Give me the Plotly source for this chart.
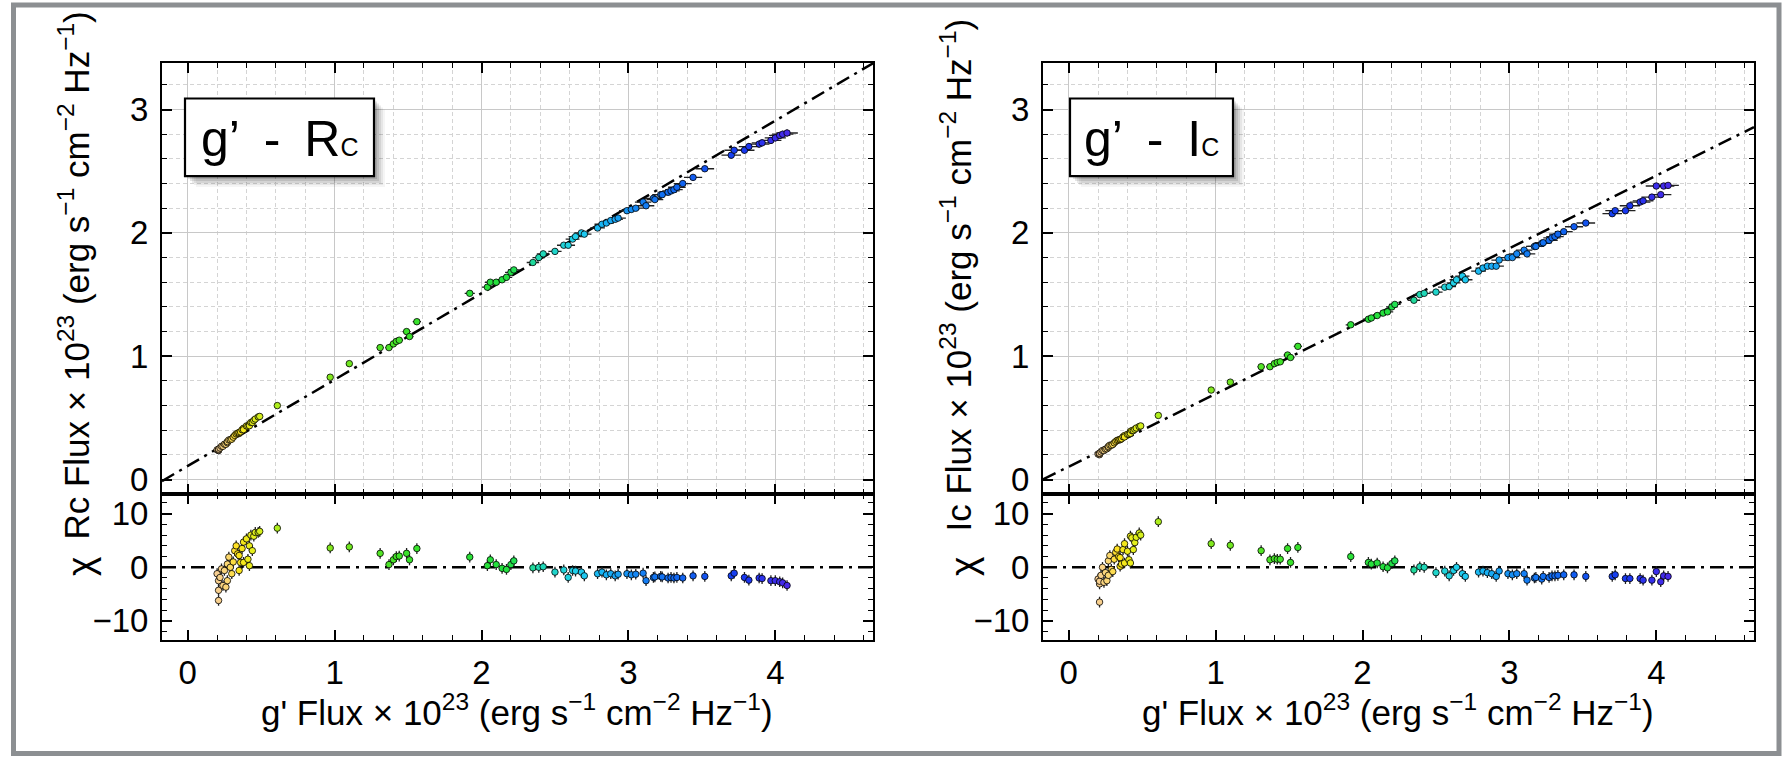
import plotly.graph_objects as go

# ---------------- data ----------------
gflux = [0.20, 0.21, 0.21, 0.21, 0.22, 0.23, 0.24, 0.25, 0.26, 0.27, 0.27, 0.28, 0.29, 0.30, 0.31, 0.32, 0.33,
         0.34, 0.35, 0.35, 0.36, 0.37, 0.38, 0.38, 0.40, 0.41, 0.42, 0.42, 0.43, 0.44, 0.45, 0.46, 0.48, 0.49,
         0.61, 0.97, 1.10, 1.31, 1.37, 1.40, 1.42, 1.44, 1.49, 1.51, 1.56, 1.92, 2.04, 2.06, 2.10, 2.14, 2.17,
         2.20, 2.22, 2.35, 2.39, 2.42, 2.50, 2.56, 2.59, 2.62, 2.64, 2.68, 2.70, 2.79, 2.82, 2.85, 2.88, 2.91,
         2.93, 2.99, 3.02, 3.05, 3.10, 3.12, 3.17, 3.18, 3.22, 3.23, 3.27, 3.29, 3.31, 3.33, 3.37, 3.44, 3.52,
         3.70, 3.72, 3.79, 3.82, 3.89, 3.91, 3.97, 4.00, 4.03, 4.05, 4.08]

rc_flux = [0.241, 0.235, 0.241, 0.247, 0.256, 0.270, 0.270, 0.287, 0.286, 0.299, 0.308, 0.321, 0.323, 0.328,
           0.344, 0.358, 0.370, 0.375, 0.374, 0.383, 0.387, 0.404, 0.416, 0.405, 0.435, 0.433, 0.448, 0.437,
           0.463, 0.463, 0.480, 0.491, 0.508, 0.512,
           0.60, 0.83, 0.94, 1.07, 1.07, 1.10, 1.12, 1.13, 1.20, 1.16, 1.28, 1.51, 1.56, 1.60, 1.60, 1.62, 1.64,
           1.68, 1.70, 1.76, 1.80, 1.83, 1.85, 1.90, 1.90, 1.95, 1.97, 2.00, 1.99, 2.04, 2.07, 2.08, 2.10, 2.11,
           2.12, 2.18, 2.19, 2.20, 2.25, 2.22, 2.28, 2.27, 2.31, 2.31, 2.33, 2.34, 2.35, 2.37, 2.40, 2.45, 2.52,
           2.63, 2.67, 2.67, 2.70, 2.72, 2.73, 2.75, 2.77, 2.79, 2.80, 2.81]

rc_chi = [-1.2, -6.2, -4.3, -2.5, -1.9, -0.3, -3.4, -0.6, -3.7, -2.5, 0.6, 1.9, 0.0, -1.2, 1.0, 3.1, 4.0,
          2.5, -0.6, 2.2, 0.9, 3.5, 4.7, 0.9, 5.3, 1.5, 4.0, 0.3, 6.0, 3.1, 5.8, 6.5, 6.5, 6.7,
          7.3, 3.6, 3.8, 2.6, 0.5, 1.4, 2.0, 2.1, 2.6, 1.4, 3.5, 1.9, 0.3, 1.4, 0.5, -0.2, -0.4,
          0.5, 1.2, -0.1, 0.0, 0.1, -0.9, -0.5, -1.9, -0.6, -0.7, -0.9, -1.6, -1.2, -0.9, -1.4, -1.2, -1.6,
          -1.3, -1.2, -1.4, -1.3, -1.1, -2.5, -1.9, -1.8, -1.7, -1.8, -2.0, -1.9, -2.0, -1.9, -2.0, -1.6, -1.7,
          -1.6, -1.1, -1.9, -2.4, -2.0, -2.1, -2.5, -2.5, -2.7, -2.9, -3.4]

ic_flux = [0.207, 0.202, 0.212, 0.213, 0.224, 0.236, 0.235, 0.247, 0.250, 0.260, 0.269, 0.279, 0.278, 0.284,
           0.298, 0.309, 0.318, 0.321, 0.323, 0.327, 0.331, 0.347, 0.357, 0.346, 0.367, 0.369, 0.390, 0.375,
           0.397, 0.397, 0.408, 0.418, 0.430, 0.435,
           0.52, 0.726, 0.79, 0.915, 0.915, 0.94, 0.95, 0.955, 1.01, 0.99, 1.08, 1.255, 1.30, 1.31, 1.33, 1.35,
           1.36, 1.40, 1.42, 1.454, 1.50, 1.51, 1.52, 1.56, 1.565, 1.595, 1.62, 1.65, 1.62, 1.69, 1.715, 1.73,
           1.73, 1.73, 1.78, 1.80, 1.80, 1.83, 1.86, 1.83, 1.89, 1.89, 1.915, 1.92, 1.94, 1.96, 1.97, 1.99,
           2.01, 2.05, 2.08, 2.156, 2.18, 2.18, 2.22, 2.25, 2.26, 2.29, 2.38, 2.31, 2.38, 2.385]

ic_chi = [-2.2, -6.5, -3.1, -2.6, -1.5, 0.0, -2.8, -1.0, -2.5, -1.5, 1.2, 2.2, -0.4, -0.8, 1.5, 2.8, 3.4,
          2.0, 0.2, 1.8, 0.6, 3.3, 4.4, 0.8, 3.0, 1.4, 5.8, 0.8, 5.5, 3.3, 4.6, 5.6, 6.4, 6.0,
          8.5, 4.4, 4.1, 3.1, 1.4, 1.6, 1.5, 1.5, 3.5, 0.9, 3.7, 2.0, 0.9, 0.6, 0.8, 0.1, -0.1,
          0.7, 1.2, -0.5, 0.1, 0.0, -1.0, -0.7, -1.6, -0.6, 0.0, -1.2, -1.7, -0.9, -0.7, -1.0, -1.2, -1.7,
          -0.7, -1.2, -1.4, -1.2, -1.2, -2.4, -2.0, -1.9, -2.2, -1.7, -1.9, -1.6, -1.6, -1.5, -1.4, -1.4, -1.7,
          -1.7, -1.4, -2.1, -2.1, -2.1, -2.4, -2.4, -0.8, -2.7, -1.6, -1.7]

# linear fits drawn as dash-dot lines (slope, intercept)
fit_rc = (0.700, 0.110)
fit_ic = (0.590, 0.105)

panel_labels = ["g’\u2009 -\u2009 R<span style='font-size:25px'>C</span>",
                "g’\u2009 -\u2009 I<span style='font-size:25px'>C</span>"]
y_titles = ["Rc Flux × 10<sup>23</sup> (erg s<sup>−1</sup> cm<sup>−2</sup> Hz<sup>−1</sup>)",
            "Ic Flux × 10<sup>23</sup> (erg s<sup>−1</sup> cm<sup>−2</sup> Hz<sup>−1</sup>)"]
x_title = "g' Flux × 10<sup>23</sup> (erg s<sup>−1</sup> cm<sup>−2</sup> Hz<sup>−1</sup>)"
chi_title = "χ"

assert len(gflux) == len(rc_flux) == len(rc_chi) == len(ic_flux) == len(ic_chi)

# ---------------- layout helpers ----------------
W, H = 1787, 763
FONT = "Liberation Sans, Arial, Helvetica, sans-serif"
XR = [-0.175, 4.665]
YR_MAIN = [-0.12, 3.38]
YR_RES = [-13.5, 13.6]


def px(p):
    return p / W


def py(p):
    return 1 - p / H


colorscale = [
    [0.00, '#f7cf92'], [0.02, '#fcd870'], [0.035, '#ffe21a'], [0.065, '#e2f01c'],
    [0.10, '#b0ee1c'], [0.205, '#7ee81e'], [0.33, '#3ae22a'], [0.51, '#22e040'],
    [0.56, '#20d8b0'], [0.63, '#20d0f0'], [0.68, '#18b0f4'], [0.74, '#1480f4'],
    [0.82, '#1060f0'], [0.92, '#1838f0'], [1.00, '#4a28e8'],
]

marker_common = dict(size=6.5, color=gflux, colorscale=colorscale, cmin=0.2, cmax=4.1,
                     line=dict(color='black', width=0.8))

fig = go.Figure()

panels = [
    dict(flux=rc_flux, chi=rc_chi, fit=fit_rc, xa='x', ya='y', xr='x2', yr='y2'),
    dict(flux=ic_flux, chi=ic_chi, fit=fit_ic, xa='x3', ya='y3', xr='x4', yr='y4'),
]

DASH = '14px,6px,3px,6px'
for p in panels:
    slope, icpt = p['fit']
    fx = [XR[0], XR[1]]
    fig.add_trace(go.Scatter(x=fx, y=[icpt + slope * v for v in fx], mode='lines',
                             line=dict(color='black', width=2.5, dash=DASH),
                             xaxis=p['xa'], yaxis=p['ya'], hoverinfo='skip'))
    fig.add_trace(go.Scatter(x=gflux, y=p['flux'], mode='markers', marker=marker_common,
                             error_x=dict(type='percent', value=1.8, color='#222222', thickness=1.3, width=0),
                             error_y=dict(type='percent', value=1.0, color='#222222', thickness=1.3, width=0),
                             xaxis=p['xa'], yaxis=p['ya']))
    fig.add_trace(go.Scatter(x=fx, y=[0, 0], mode='lines',
                             line=dict(color='black', width=2.5, dash=DASH),
                             xaxis=p['xr'], yaxis=p['yr'], hoverinfo='skip'))
    fig.add_trace(go.Scatter(x=gflux, y=p['chi'], mode='markers', marker=marker_common,
                             error_y=dict(type='constant', value=1.0, color='#222222', thickness=1.3, width=0),
                             xaxis=p['xr'], yaxis=p['yr']))

tickfont = dict(family=FONT, size=33, color='black')


def xcfg(dom, anchor, labels, grid):
    return dict(domain=dom, anchor=anchor, range=XR, showline=True, linecolor='black', linewidth=2,
                mirror='allticks', ticks='inside', ticklen=10, tickwidth=1.5, tickcolor='black',
                tick0=0, dtick=1, showticklabels=labels, tickfont=tickfont, ticklabelstandoff=3,
                showgrid=grid, gridcolor='#c8c8c8', gridwidth=1.4, zeroline=False,
                minor=dict(dtick=0.2, tick0=0, ticks='inside', ticklen=5, tickwidth=1.2, tickcolor='black',
                           showgrid=grid, gridcolor='#d4d4d4', gridwidth=1, griddash='4px,3px'))


def ycfg(dom, anchor, rng, dtick, mdtick, grid):
    return dict(domain=dom, anchor=anchor, range=rng, showline=True, linecolor='black', linewidth=2,
                mirror='allticks', ticks='inside', ticklen=10, tickwidth=1.5, tickcolor='black',
                tick0=0, dtick=dtick, tickfont=tickfont, ticklabelstandoff=5,
                showgrid=grid, gridcolor='#c8c8c8', gridwidth=1.4, zeroline=False,
                minor=dict(dtick=mdtick, tick0=0, ticks='inside', ticklen=5, tickwidth=1.2, tickcolor='black',
                           showgrid=grid, gridcolor='#d4d4d4', gridwidth=1, griddash='4px,3px'))


LX = [px(162), px(873)]
RX = [px(1043), px(1754)]
MAIN_Y = [py(497), py(63)]
RES_Y = [py(643), py(497)]

fig.update_layout(
    width=W, height=H, autosize=False, margin=dict(l=0, r=0, t=0, b=0),
    paper_bgcolor='white', plot_bgcolor='white', showlegend=False,
    font=dict(family=FONT, color='black'),
    xaxis=xcfg(LX, 'y', False, True), yaxis=ycfg(MAIN_Y, 'x', YR_MAIN, 1, 0.2, True),
    xaxis2=xcfg(LX, 'y2', True, False), yaxis2=ycfg(RES_Y, 'x2', YR_RES, 10, 2, False),
    xaxis3=xcfg(RX, 'y3', False, True), yaxis3=ycfg(MAIN_Y, 'x3', YR_MAIN, 1, 0.2, True),
    xaxis4=xcfg(RX, 'y4', True, False), yaxis4=ycfg(RES_Y, 'x4', YR_RES, 10, 2, False),
)

shapes = []
# outer grey frame
shapes.append(dict(type='rect', xref='paper', yref='paper', x0=px(13.5), x1=px(1779), y0=py(757.5), y1=py(5),
                   line=dict(color='#8c8f92', width=5), fillcolor='rgba(0,0,0,0)', layer='above'))

annotations = []
boxes = [(185, 374), (1070, 1233)]
for (bx0, bx1), lab in zip(boxes, panel_labels):
    by0, by1 = 99, 177
    for off, op in [(11, 0.04), (9, 0.06), (7, 0.08), (5, 0.10), (3, 0.12)]:
        shapes.append(dict(type='rect', xref='paper', yref='paper', x0=px(bx0 + off), x1=px(bx1 + off),
                           y0=py(by1 + off), y1=py(by0 + off), line=dict(width=0),
                           fillcolor='rgba(0,0,0,%s)' % op, layer='above'))
    shapes.append(dict(type='rect', xref='paper', yref='paper', x0=px(bx0), x1=px(bx1), y0=py(by1), y1=py(by0),
                       line=dict(color='black', width=2.2), fillcolor='white', layer='above'))
    annotations.append(dict(xref='paper', yref='paper', x=px((bx0 + bx1) / 2), y=py((by0 + by1) / 2 + 2),
                            text=lab, showarrow=False, xanchor='center', yanchor='middle',
                            font=dict(family=FONT, size=50, color='black')))

# axis titles as annotations
for xc, ytxt in [(74, y_titles[0]), (956, y_titles[1])]:
    annotations.append(dict(xref='paper', yref='paper', x=px(xc), y=py(277), text=ytxt, textangle=-90,
                            showarrow=False, xanchor='center', yanchor='middle',
                            font=dict(family=FONT, size=35, color='black')))
for xc in [80, 963]:
    annotations.append(dict(xref='paper', yref='paper', x=px(xc), y=py(570), text=chi_title, textangle=-90,
                            showarrow=False, xanchor='center', yanchor='middle',
                            font=dict(family=FONT, size=37, color='black')))
for xc in [517, 1398]:
    annotations.append(dict(xref='paper', yref='paper', x=px(xc), y=py(714), text=x_title,
                            showarrow=False, xanchor='center', yanchor='middle',
                            font=dict(family=FONT, size=35, color='black')))

fig.update_layout(shapes=shapes, annotations=annotations)
fig.write_html("out.html")
